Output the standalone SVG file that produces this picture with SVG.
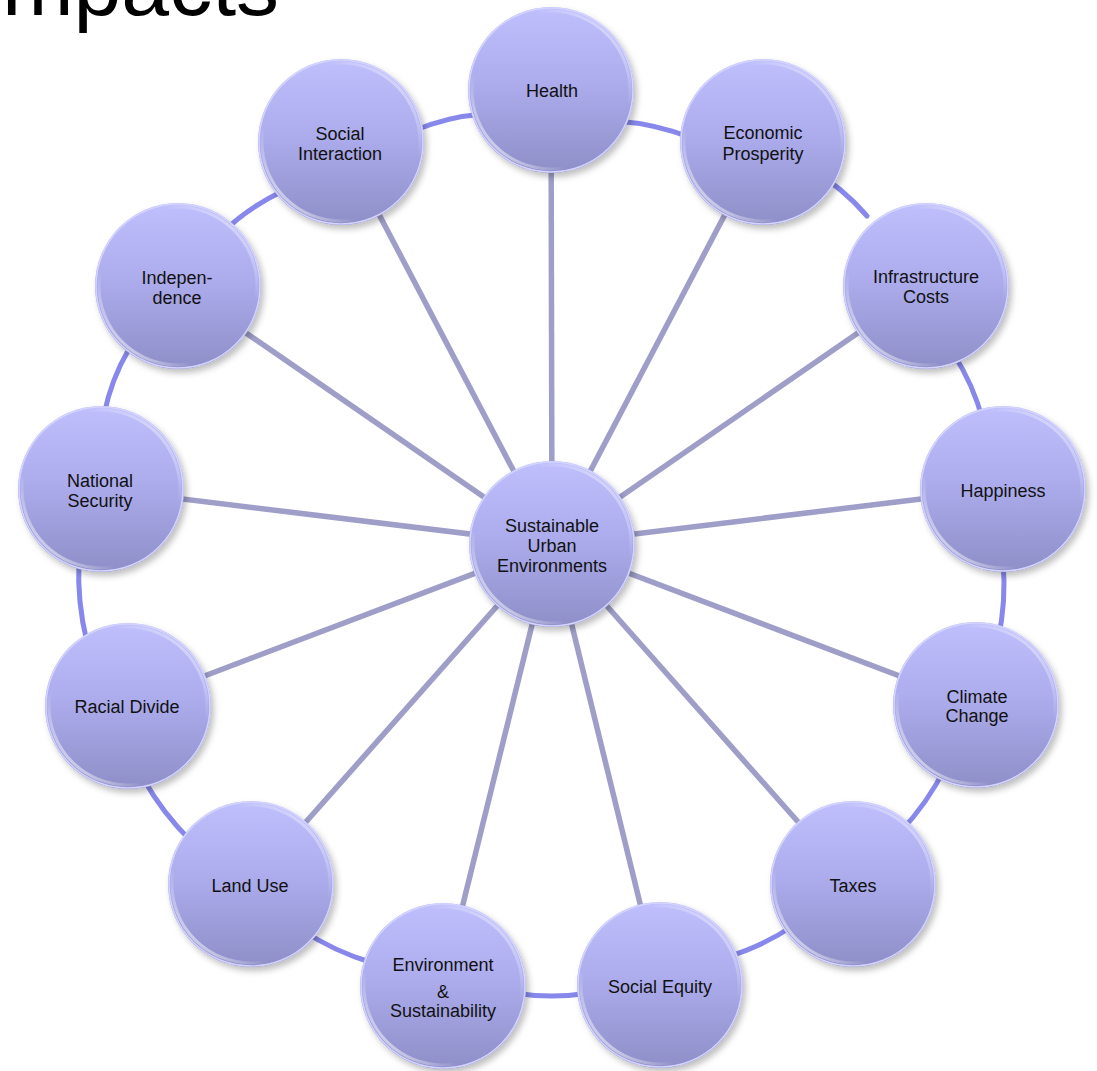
<svg xmlns="http://www.w3.org/2000/svg" width="1097" height="1071" viewBox="0 0 1097 1071">
<defs>
<linearGradient id="fillGrad" x1="0" y1="0" x2="0" y2="1">
<stop offset="0" stop-color="#bfbffd"/>
<stop offset="0.45" stop-color="#adadee"/>
<stop offset="1" stop-color="#8e8ec8"/>
</linearGradient>
<linearGradient id="rimGrad" x1="0" y1="1" x2="1" y2="0">
<stop offset="0" stop-color="#ffffff" stop-opacity="0.95"/>
<stop offset="0.3" stop-color="#ffffff" stop-opacity="0"/>
<stop offset="0.7" stop-color="#ffffff" stop-opacity="0"/>
<stop offset="1" stop-color="#ffffff" stop-opacity="0.7"/>
</linearGradient>
<filter id="shadow" x="-20%" y="-20%" width="150%" height="150%">
<feDropShadow dx="3" dy="4" stdDeviation="3" flood-color="#000000" flood-opacity="0.25"/>
</filter>
<g id="ball">
<circle r="83" fill="url(#fillGrad)" filter="url(#shadow)"/>
<circle r="82" fill="none" stroke="#d4d4ff" stroke-width="1.5"/>
<circle r="79" fill="none" stroke="url(#rimGrad)" stroke-width="3"/>
</g>
</defs>
<style>
.lbl{font-family:"Liberation Sans",Arial,sans-serif;font-size:18px;fill:#111111;text-anchor:middle}
.title{font-family:"Liberation Sans",Arial,sans-serif;font-size:86px;fill:#000000}
.spoke{stroke:#9e9ec8;stroke-width:5.5;fill:none}
.ring{stroke:#8888ec;stroke-width:5;fill:none;stroke-linecap:round}
</style>
<rect width="1097" height="1071" fill="#ffffff"/>
<text class="title" x="-22" y="15">Impacts</text>
<g id="connectors">
<line class="spoke" x1="552" y1="544" x2="551" y2="90"/>
<line class="spoke" x1="552" y1="544" x2="763" y2="142"/>
<line class="spoke" x1="552" y1="544" x2="926" y2="286"/>
<line class="spoke" x1="552" y1="544" x2="1003" y2="489"/>
<line class="spoke" x1="552" y1="544" x2="976" y2="705"/>
<line class="spoke" x1="552" y1="544" x2="853" y2="884"/>
<line class="spoke" x1="552" y1="544" x2="660" y2="985"/>
<line class="spoke" x1="552" y1="544" x2="443" y2="985"/>
<line class="spoke" x1="552" y1="544" x2="251" y2="884"/>
<line class="spoke" x1="552" y1="544" x2="128" y2="705"/>
<line class="spoke" x1="552" y1="544" x2="101" y2="489"/>
<line class="spoke" x1="552" y1="544" x2="178" y2="286"/>
<line class="spoke" x1="552" y1="544" x2="341" y2="142"/>
<path class="ring" d="M616,121 Q655.4,123.7 692,138"/>
<path class="ring" d="M811,169 Q842.8,187.9 867,216"/>
<path class="ring" d="M953,353 Q973.6,384.9 983,421"/>
<path class="ring" d="M1003,561 Q1006.5,601.3 998,640"/>
<path class="ring" d="M945,768 Q927.4,803.4 900,832"/>
<path class="ring" d="M794,925 Q763.3,946.3 727,957"/>
<path class="ring" d="M590,993 Q551.5,999 513,993"/>
<path class="ring" d="M373,963 Q334.7,951.8 302,930"/>
<path class="ring" d="M192,842 Q162.6,813.4 143,778"/>
<path class="ring" d="M87,642 Q77,602.2 79,561"/>
<path class="ring" d="M104,415 Q110.9,379.9 129,349"/>
<path class="ring" d="M223,232 Q249,207 283,191"/>
<path class="ring" d="M413,131 Q447.1,116.7 484,114"/>
</g>
<g id="node-center"><use href="#ball" x="552" y="544"/><text class="lbl" x="552" y="532">Sustainable</text><text class="lbl" x="552" y="552">Urban</text><text class="lbl" x="552" y="572">Environments</text></g>
<g id="node-health"><use href="#ball" x="551" y="90"/><text class="lbl" x="552" y="97">Health</text></g>
<g id="node-economic"><use href="#ball" x="763" y="142"/><text class="lbl" x="763" y="139">Economic</text><text class="lbl" x="763" y="160">Prosperity</text></g>
<g id="node-infrastructure"><use href="#ball" x="926" y="286"/><text class="lbl" x="926" y="283">Infrastructure</text><text class="lbl" x="926" y="303">Costs</text></g>
<g id="node-happiness"><use href="#ball" x="1003" y="489"/><text class="lbl" x="1003" y="497">Happiness</text></g>
<g id="node-climate"><use href="#ball" x="976" y="705"/><text class="lbl" x="977" y="703">Climate</text><text class="lbl" x="977" y="722">Change</text></g>
<g id="node-taxes"><use href="#ball" x="853" y="884"/><text class="lbl" x="853" y="892">Taxes</text></g>
<g id="node-social-equity"><use href="#ball" x="660" y="985"/><text class="lbl" x="660" y="993">Social Equity</text></g>
<g id="node-environment"><use href="#ball" x="443" y="986"/><text class="lbl" x="443" y="971">Environment</text><text class="lbl" x="443" y="998">&amp;</text><text class="lbl" x="443" y="1017">Sustainability</text></g>
<g id="node-land-use"><use href="#ball" x="251" y="884"/><text class="lbl" x="250" y="892">Land Use</text></g>
<g id="node-racial-divide"><use href="#ball" x="128" y="706"/><text class="lbl" x="127" y="713">Racial Divide</text></g>
<g id="node-national-security"><use href="#ball" x="101" y="489"/><text class="lbl" x="100" y="487">National</text><text class="lbl" x="100" y="507">Security</text></g>
<g id="node-independence"><use href="#ball" x="178" y="286"/><text class="lbl" x="177" y="284">Indepen-</text><text class="lbl" x="177" y="304">dence</text></g>
<g id="node-social-interaction"><use href="#ball" x="341" y="142"/><text class="lbl" x="340" y="140">Social</text><text class="lbl" x="340" y="160">Interaction</text></g>
</svg>
